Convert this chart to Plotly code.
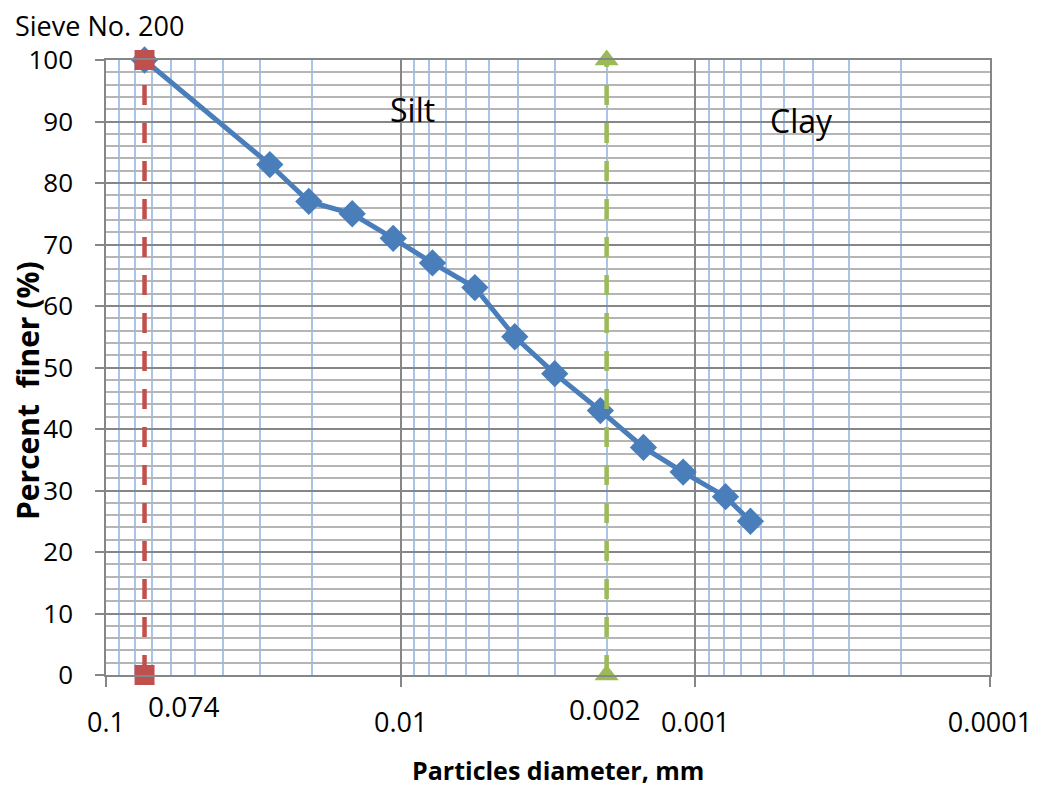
import numpy as np
import plotly.graph_objects as go

# ---- data ----
diameter_mm = [0.074, 0.0278, 0.0205, 0.0146, 0.0106, 0.0078, 0.0056, 0.0041,
               0.0030, 0.0021, 0.0015, 0.0011, 0.00079, 0.00065]
percent_finer = [100, 83, 77, 75, 71, 67, 63, 55, 49, 43, 37, 33, 29, 25]

sieve200_x = [0.074, 0.074]
sieve200_y = [0, 100]
clay_limit_x = [0.002, 0.002]
clay_limit_y = [0, 100]

major_ticks = [0.1, 0.01, 0.001, 0.0001]
major_labels = ["0.1", "0.01", "0.001", "0.0001"]
minor_ticks = [k * 10.0 ** e for e in (-4, -3, -2) for k in range(2, 10)]

FONT = "Open Sans"
BLUE = "#4A7EBB"
RED = "#C0504D"
GREEN = "#9BBB59"

fig = go.Figure()

fig.add_trace(go.Scatter(
    x=diameter_mm, y=percent_finer, mode="lines+markers",
    line=dict(color=BLUE, width=5),
    marker=dict(symbol="diamond", size=21, color=BLUE),
    cliponaxis=False, showlegend=False))

fig.add_trace(go.Scatter(
    x=sieve200_x, y=sieve200_y, mode="lines+markers",
    line=dict(color=RED, width=4.5, dash="20px,18px"),
    marker=dict(symbol="square", size=20, color=RED),
    cliponaxis=False, showlegend=False))

fig.add_trace(go.Scatter(
    x=clay_limit_x, y=clay_limit_y, mode="lines+markers",
    line=dict(color=GREEN, width=4.5, dash="20px,18px"),
    marker=dict(symbol="triangle-up", size=21, color=GREEN),
    cliponaxis=False, showlegend=False))

fig.update_xaxes(
    type="log", range=[-1, -4], automargin=False,
    tickmode="array", tickvals=major_ticks, ticktext=major_labels,
    ticks="outside", ticklen=10, tickcolor="#868686", tickwidth=1.5,
    ticklabelstandoff=13,
    showgrid=True, gridcolor="#868686", gridwidth=1.5,
    showline=True, linecolor="#868686", linewidth=1.5, mirror=True,
    minor=dict(tickmode="array", tickvals=minor_ticks, showgrid=True,
               gridcolor="#A9C4EB", gridwidth=1.5, ticks=""),
    tickfont=dict(family=FONT, size=27, color="black"),
    zeroline=False)

fig.update_yaxes(
    range=[0, 100], tick0=0, dtick=10, automargin=False,
    ticks="outside", ticklen=9, tickcolor="#868686", tickwidth=1.5,
    ticklabelstandoff=17,
    showgrid=True, gridcolor="#868686", gridwidth=1.5,
    showline=True, linecolor="#868686", linewidth=1.5, mirror=True,
    minor=dict(dtick=2, showgrid=True, gridcolor="#B5B5B5", gridwidth=1.5, ticks=""),
    tickfont=dict(family=FONT, size=26, color="black"),
    zeroline=False)

annotations = [
    dict(text="Sieve No. 200", xref="paper", yref="paper", x=0, y=1,
         xanchor="left", yanchor="middle", xshift=-93, yshift=35,
         showarrow=False, font=dict(family=FONT, size=27, color="black")),
    dict(text="Silt", xref="paper", yref="y", x=(388 - 106) / 884, y=92.0,
         xanchor="left", yanchor="middle", showarrow=False,
         font=dict(family=FONT, size=32, color="black")),
    dict(text="Clay", xref="paper", yref="y", x=(768 - 106) / 884, y=90.2,
         xanchor="left", yanchor="middle", showarrow=False,
         font=dict(family=FONT, size=32, color="black")),
    dict(text="0.074", xref="x", yref="paper", x=np.log10(sieve200_x[0]), y=0,
         xanchor="left", yanchor="middle", xshift=1, yshift=-31,
         showarrow=False, font=dict(family=FONT, size=28, color="black")),
    dict(text="0.002", xref="x", yref="paper", x=np.log10(clay_limit_x[0]), y=0,
         xanchor="center", yanchor="middle", xshift=-2, yshift=-34,
         showarrow=False, font=dict(family=FONT, size=28, color="black")),
    dict(text="<b>Particles diameter, mm</b>", xref="paper", yref="paper",
         x=(558 - 106) / 884, y=0, xanchor="center", yanchor="middle", yshift=-95,
         showarrow=False, font=dict(family=FONT, size=25, color="black")),
    dict(text="<b>Percent&nbsp; finer (%)</b>", xref="paper", yref="paper",
         x=0, y=(675 - 391) / 615, xanchor="center", yanchor="middle", xshift=-79,
         textangle=-90, showarrow=False, font=dict(family=FONT, size=30, color="black")),
]

fig.update_layout(
    width=1039, height=790,
    margin=dict(l=106, r=49, t=60, b=115, autoexpand=False),
    paper_bgcolor="white", plot_bgcolor="white",
    showlegend=False,
    annotations=annotations)

fig.write_html("out.html")
